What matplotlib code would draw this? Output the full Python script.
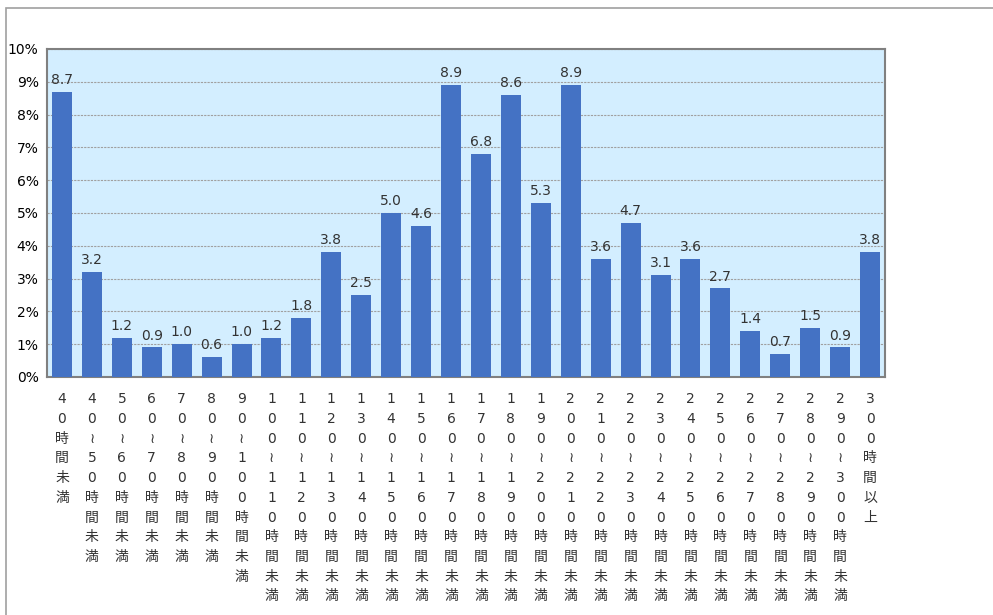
import matplotlib.pyplot as plt
from matplotlib.patches import Rectangle

plt.rcParams['font.family'] = ['DejaVu Sans', 'Noto Sans CJK JP']

categories = ['40時間未満', '40≀50時間未満', '50≀60時間未満', '60≀70時間未満',
              '70≀80時間未満', '80≀90時間未満', '90≀100時間未満', '100≀110時間未満',
              '110≀120時間未満', '120≀130時間未満', '130≀140時間未満', '140≀150時間未満',
              '150≀160時間未満', '160≀170時間未満', '170≀180時間未満', '180≀190時間未満',
              '190≀200時間未満', '200≀210時間未満', '210≀220時間未満', '220≀230時間未満',
              '230≀240時間未満', '240≀250時間未満', '250≀260時間未満', '260≀270時間未満',
              '270≀280時間未満', '280≀290時間未満', '290≀300時間未満', '300時間以上']
values = [8.7, 3.2, 1.2, 0.9, 1.0, 0.6, 1.0, 1.2, 1.8, 3.8, 2.5, 5.0, 4.6, 8.9,
          6.8, 8.6, 5.3, 8.9, 3.6, 4.7, 3.1, 3.6, 2.7, 1.4, 0.7, 1.5, 0.9, 3.8]
yticks = [0, 1, 2, 3, 4, 5, 6, 7, 8, 9, 10]

fig = plt.figure(figsize=(9.93, 6.15), dpi=100)
# outer frame
fig.patches.append(Rectangle((6 / 993, -0.1), 1.2, 1 - 8 / 615 + 0.1,
                             transform=fig.transFigure, fill=False,
                             edgecolor='#a0a0a0', linewidth=1.2))

ax = fig.add_axes([47 / 993, 1 - 377 / 615, (885 - 47) / 993, (377 - 49) / 615])
ax.set_facecolor('#d3eeff')
x = list(range(len(values)))
ax.bar(x, values, width=0.67, color='#4472c4', zorder=3)
for xi, v in zip(x, values):
    ax.text(xi, v + 0.15, f'{v:.1f}', ha='center', va='bottom', fontsize=10,
            color='#333333')

ax.set_xlim(-0.5, len(values) - 0.5)
ax.set_ylim(0, 10)
ax.set_yticks(yticks)
ax.set_yticklabels([f'{t}%' for t in yticks], fontsize=10)
ax.yaxis.grid(True, linestyle=(0, (2, 1)), color='#a0a0a0', linewidth=0.8, zorder=1)
ax.tick_params(axis='y', length=0, pad=6)
ax.set_xticks(x)
ax.set_xticklabels(['\n'.join(c) for c in categories], fontsize=10,
                   linespacing=1.52, va='top', color='#333333')
ax.tick_params(axis='x', length=0, pad=11)
for s in ax.spines.values():
    s.set_color('#808080')
    s.set_linewidth(1.5)

fig.savefig('out.png', dpi=100)
